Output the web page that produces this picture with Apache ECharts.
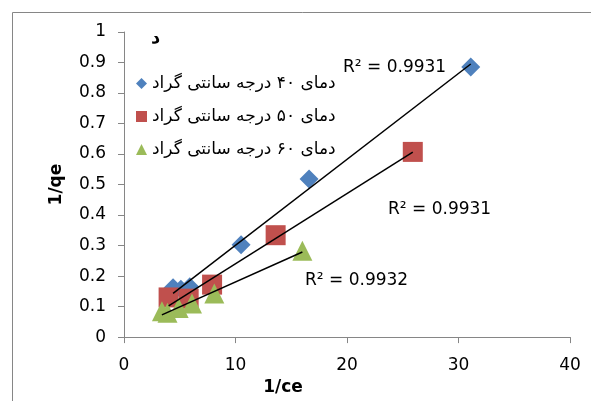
<!DOCTYPE html>
<html><head><meta charset="utf-8">
<script src="https://cdn.jsdelivr.net/npm/echarts@6/dist/echarts.min.js"></script>
<style>html,body{margin:0;padding:0;background:#fff}#c{width:591px;height:401px}</style>
</head><body><div id="c"></div>
<script>
// Series data: [1/ce, 1/qe]
const seriesNames = ['دمای ۴۰ درجه سانتی گراد', 'دمای ۵۰ درجه سانتی گراد', 'دمای ۶۰ درجه سانتی گراد'];
const data40 = [[4.4, 0.162], [5.1, 0.157], [5.9, 0.165], [10.5, 0.303], [16.6, 0.518], [31.1, 0.885]];
const data50 = [[4.0, 0.13], [5.8, 0.126], [7.9, 0.172], [13.6, 0.334], [25.9, 0.607]];
const data60 = [[3.4, 0.085], [3.9, 0.08], [4.9, 0.095], [6.1, 0.11], [8.1, 0.143], [16.0, 0.283]];
const r2Labels = ['R² = 0.9931', 'R² = 0.9931', 'R² = 0.9932'];
const chartTitle = 'د';
const xName = '1/ce';
const yName = '1/qe';

const colors = ['#4F81BD', '#C0504D', '#9BBB59'];
const symbols = ['diamond', 'rect', 'triangle'];
const sets = [data40, data50, data60];

function fit(d) {
  const n = d.length;
  let sx = 0, sy = 0;
  d.forEach(p => { sx += p[0]; sy += p[1]; });
  const mx = sx / n, my = sy / n;
  let sxy = 0, sxx = 0;
  d.forEach(p => { sxy += (p[0] - mx) * (p[1] - my); sxx += (p[0] - mx) ** 2; });
  const b = sxy / sxx, a = my - b * mx;
  const xs = d.map(p => p[0]);
  const x0 = Math.min(...xs), x1 = Math.max(...xs);
  return [[x0, a + b * x0], [x1, a + b * x1]];
}

const font = '"DejaVu Sans", sans-serif';
const series = [];
sets.forEach((d, i) => {
  series.push({
    name: seriesNames[i], type: 'scatter', data: d, symbol: symbols[i],
    symbolSize: i === 0 ? 19 : 20, itemStyle: { color: colors[i], opacity: 1 }, z: 2 + i
  });
});
sets.forEach((d, i) => {
  series.push({
    type: 'line', data: fit(d), symbol: 'none', silent: true,
    lineStyle: { color: '#000', width: 1.5 }, z: 10
  });
});

const chart = echarts.init(document.getElementById('c'));
chart.setOption({
  animation: false,
  backgroundColor: '#fff',
  title: { text: chartTitle, left: 146, top: 24, textStyle: { fontFamily: font, fontWeight: 'bold', fontSize: 18, color: '#000' } },
  legend: {
    data: seriesNames.map((n, i) => ({ name: n, icon: symbols[i] })),
    orient: 'vertical', left: 131, top: 70, itemGap: 16, itemWidth: 11, itemHeight: 11,
    textStyle: { fontFamily: font, fontSize: 17, color: '#000' }
  },
  grid: { left: 124, right: 21, top: 32, bottom: 60 },
  xAxis: {
    type: 'value', min: 0, max: 40, interval: 10,
    name: xName, nameLocation: 'middle', nameGap: 35,
    nameTextStyle: { fontFamily: font, fontWeight: 'bold', fontSize: 17, color: '#000', padding: [0, 128, 0, 0] },
    axisLine: { lineStyle: { color: '#868686', width: 1 } },
    axisTick: { show: true, length: 6, lineStyle: { color: '#868686' } },
    axisLabel: { margin: 20, fontFamily: font, fontSize: 17, color: '#000' },
    splitLine: { show: false }
  },
  yAxis: {
    type: 'value', min: 0, max: 1, interval: 0.1,
    name: yName, nameLocation: 'middle', nameGap: 59,
    nameTextStyle: { fontFamily: font, fontWeight: 'bold', fontSize: 17, color: '#000' },
    axisLine: { show: true, lineStyle: { color: '#868686', width: 1 } },
    axisTick: { show: true, length: 6, lineStyle: { color: '#868686' } },
    axisLabel: { margin: 18, fontFamily: font, fontSize: 17, color: '#000', formatter: v => String(Math.round(v * 10) / 10) },
    splitLine: { show: false }
  },
  graphic: [
    { type: 'rect', shape: { x: 12.5, y: 12.5, width: 620, height: 420 }, style: { fill: 'none', stroke: '#868686', lineWidth: 1 }, z: -1, silent: true },
    { type: 'text', left: 343, top: 59, style: { text: r2Labels[0], font: '17px ' + font, fill: '#000' } },
    { type: 'text', left: 388, top: 201, style: { text: r2Labels[1], font: '17px ' + font, fill: '#000' } },
    { type: 'text', left: 305, top: 272, style: { text: r2Labels[2], font: '17px ' + font, fill: '#000' } }
  ],
  series: series
});
</script></body></html>
